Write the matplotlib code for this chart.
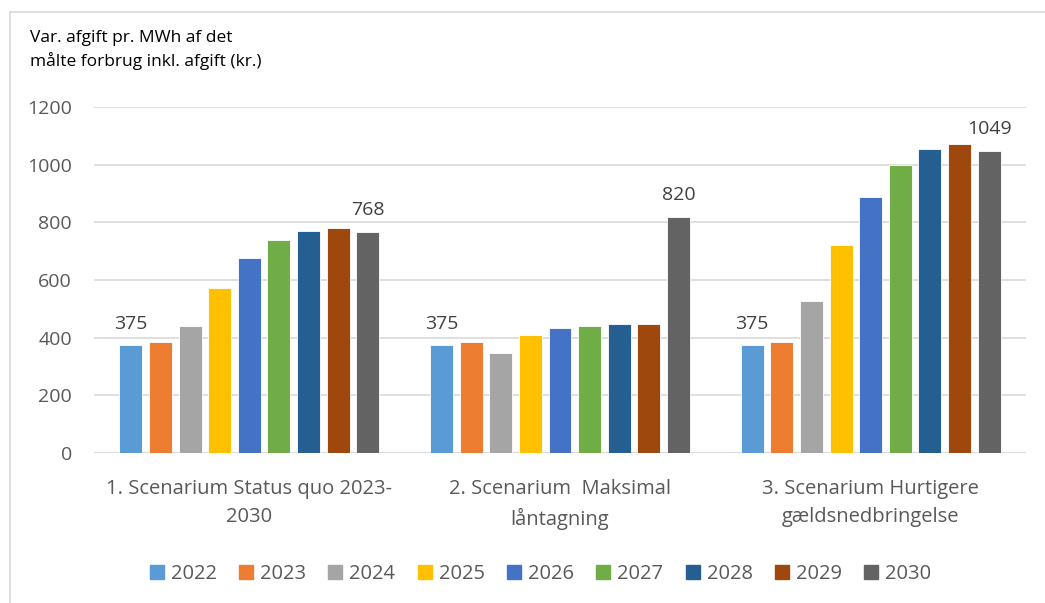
import matplotlib.pyplot as plt
import numpy as np
from matplotlib.lines import Line2D

plt.rcParams["font.family"] = ["Open Sans", "DejaVu Sans"]

SCENARIOS = ["1. Scenarium Status quo 2023-\n2030",
             "2. Scenarium  Maksimal\nlåntagning",
             "3. Scenarium Hurtigere\ngældsnedbringelse"]
YEARS = ["2022", "2023", "2024", "2025", "2026", "2027", "2028", "2029", "2030"]

# one list per year, values for the three scenarios
V2022 = [375, 375, 375]
V2023 = [385, 385, 385]
V2024 = [441, 347, 527]
V2025 = [573, 409, 720]
V2026 = [676, 434, 888]
V2027 = [740, 440, 998]
V2028 = [771, 446, 1054]
V2029 = [781, 447, 1072]
V2030 = [768, 820, 1049]

COLORS = ["#5B9BD5", "#ED7D31", "#A5A5A5", "#FFC000", "#4472C4",
          "#70AD47", "#255E91", "#9E480E", "#636363"]

TEXT = "#595959"

series = [V2022, V2023, V2024, V2025, V2026, V2027, V2028, V2029, V2030]

fig = plt.figure(figsize=(10.45, 6.03), dpi=100)
ax = fig.add_axes([94 / 1045, 1 - 453 / 603, (1026 - 94) / 1045, (453 - 107) / 603])

x = np.arange(len(SCENARIOS))
pitch = 0.0953
width = 0.074
for i, (yr, vals, c) in enumerate(zip(YEARS, series, COLORS)):
    pos = x + (i - 4) * pitch
    ax.bar(pos, vals, width, color=c, edgecolor="white", linewidth=0.6, zorder=3)
    # data labels only on first and last year
    if i in (0, 8):
        for px, v in zip(pos, vals):
            ax.text(px, v + 42, f"{v}", ha="center", va="bottom",
                    fontsize=14, color="#404040")

ax.set_xlim(-0.5, 2.5)
ax.set_ylim(0, 1200)
ax.set_yticks(range(0, 1201, 200))
ax.grid(axis="y", color="#D9D9D9", linewidth=1.2, zorder=0)
for s in ax.spines.values():
    s.set_visible(False)
ax.axhline(0, color="#D9D9D9", linewidth=1.5, zorder=2)
ax.tick_params(axis="y", length=0, labelsize=14, labelcolor=TEXT, pad=16)
ax.tick_params(axis="x", length=0, labelsize=14.5, labelcolor=TEXT, pad=19)
ax.set_xticks(x)
ax.set_xticklabels(SCENARIOS, linespacing=1.5)

fig.text(30 / 1045, 1 - 50 / 603, "Var. afgift pr. MWh af det\nmålte forbrug inkl. afgift (kr.)",
         fontsize=12.5, color="#000000", va="center", ha="left", linespacing=1.5)

handles = [Line2D([], [], marker="s", linestyle="none", markersize=10,
                  markerfacecolor=c, markeredgecolor=c) for c in COLORS]
fig.legend(handles, YEARS, loc="center", bbox_to_anchor=(540 / 1045, 1 - 574 / 603),
           ncol=9, frameon=False, fontsize=14.5, labelcolor=TEXT,
           handlelength=0.8, handletextpad=0.3, columnspacing=1.05)

# chart frame (top and left edges visible)
fig.add_artist(Line2D([10 / 1045, 1], [1 - 12 / 603, 1 - 12 / 603],
                      color="#D9D9D9", linewidth=1.2, transform=fig.transFigure))
fig.add_artist(Line2D([10 / 1045, 10 / 1045], [0, 1 - 12 / 603],
                      color="#D9D9D9", linewidth=1.2, transform=fig.transFigure))

fig.savefig("out.png", dpi=100)
